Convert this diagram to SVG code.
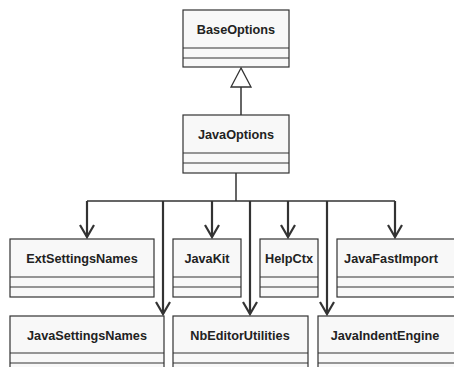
<svg xmlns="http://www.w3.org/2000/svg" width="454" height="367" viewBox="0 0 454 367">
<defs>
<style>
.box{fill:#f8f8f8;stroke:#333;stroke-width:1.2}
.cl{stroke:#333;stroke-width:1.2;fill:none}
.t{font-family:"Liberation Sans",Arial,sans-serif;font-weight:bold;font-size:12.7px;fill:#222;text-anchor:middle}
.e{stroke:#333;stroke-width:1.5;fill:none}
.a{stroke:#333;stroke-width:2.2;fill:none}
</style>
<marker id="v" markerWidth="16" markerHeight="16" refX="13" refY="8" orient="auto" markerUnits="userSpaceOnUse" viewBox="0 0 16 16">
<path d="M1,1 L13,8 L1,15" stroke="#333" stroke-width="2.2" fill="none"/>
</marker>
</defs>
<rect width="454" height="367" fill="#fff"/>
<g id="connectors">
<path class="e" d="M241,115 V87"/>
<path d="M241,68 L231,87 L251,87 Z" fill="#fff" stroke="#333" stroke-width="1.3"/>
<path class="e" d="M236,173 V201 M87,201 H395"/>
<path class="a" d="M87,201 V237" marker-end="url(#v)"/>
<path class="a" d="M163,201 V314" marker-end="url(#v)"/>
<path class="a" d="M212,201 V237" marker-end="url(#v)"/>
<path class="a" d="M250,201 V314" marker-end="url(#v)"/>
<path class="a" d="M288,201 V237" marker-end="url(#v)"/>
<path class="a" d="M327,201 V314" marker-end="url(#v)"/>
<path class="a" d="M395,201 V237" marker-end="url(#v)"/>
</g>
<g id="BaseOptions">
<rect class="box" x="183" y="10" width="106" height="57"/>
<path class="cl" d="M183,48 H289 M183,58 H289"/>
<text class="t" x="236" y="34">BaseOptions</text>
</g>
<g id="JavaOptions">
<rect class="box" x="183" y="115" width="106" height="58"/>
<path class="cl" d="M183,153 H289 M183,163 H289"/>
<text class="t" x="236" y="139">JavaOptions</text>
</g>
<g id="ExtSettingsNames">
<rect class="box" x="10" y="239" width="144" height="58"/>
<path class="cl" d="M10,277 H154 M10,287 H154"/>
<text class="t" x="82" y="263">ExtSettingsNames</text>
</g>
<g id="JavaKit">
<rect class="box" x="173" y="239" width="68" height="58"/>
<path class="cl" d="M173,277 H241 M173,287 H241"/>
<text class="t" x="207" y="263">JavaKit</text>
</g>
<g id="HelpCtx">
<rect class="box" x="260" y="239" width="58" height="58"/>
<path class="cl" d="M260,277 H318 M260,287 H318"/>
<text class="t" x="289" y="263">HelpCtx</text>
</g>
<g id="JavaFastImport">
<rect class="box" x="337" y="239" width="122" height="58"/>
<path class="cl" d="M337,277 H459 M337,287 H459"/>
<text class="t" x="391" y="263">JavaFastImport</text>
</g>
<g id="JavaSettingsNames">
<rect class="box" x="10" y="316" width="154" height="58"/>
<path class="cl" d="M10,353 H164 M10,363 H164"/>
<text class="t" x="87" y="340">JavaSettingsNames</text>
</g>
<g id="NbEditorUtilities">
<rect class="box" x="173" y="316" width="135" height="58"/>
<path class="cl" d="M173,353 H308 M173,363 H308"/>
<text class="t" x="240" y="340">NbEditorUtilities</text>
</g>
<g id="JavaIndentEngine">
<rect class="box" x="318" y="316" width="141" height="58"/>
<path class="cl" d="M318,353 H459 M318,363 H459"/>
<text class="t" x="385" y="340">JavaIndentEngine</text>
</g>
</svg>
